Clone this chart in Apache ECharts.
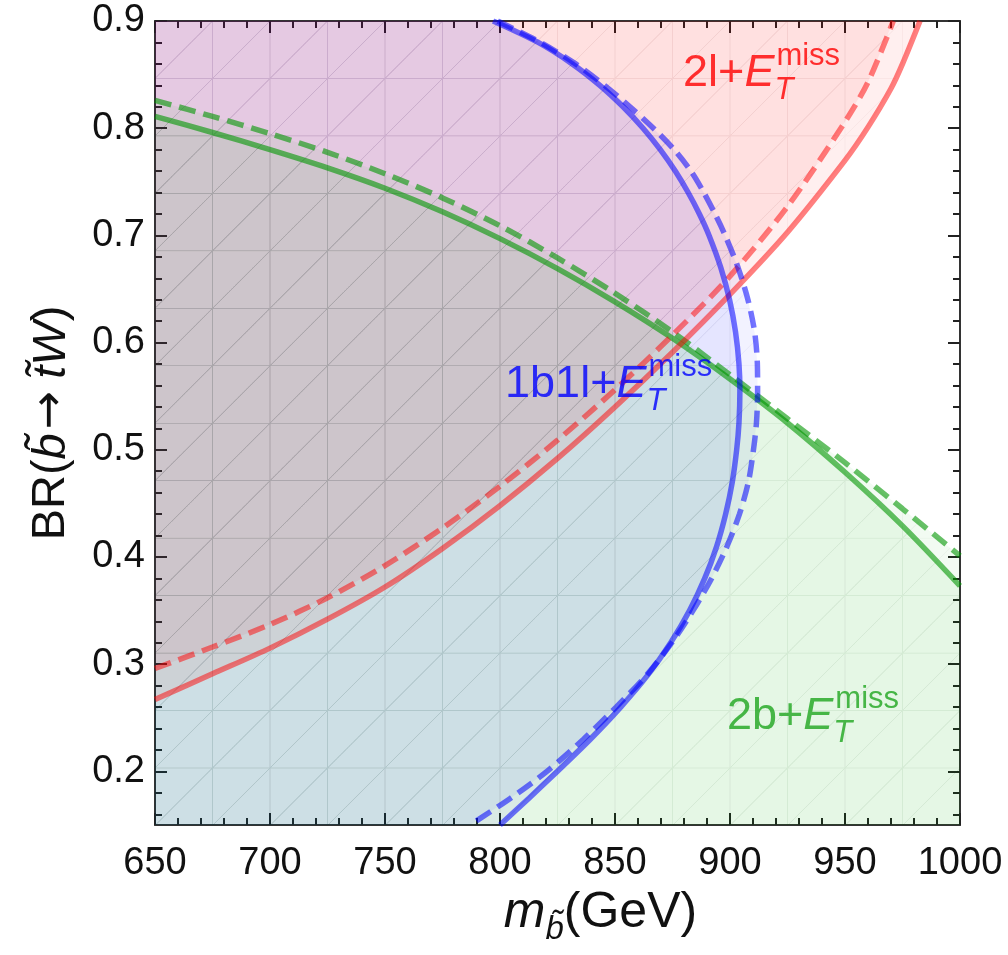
<!DOCTYPE html>
<html>
<head>
<meta charset="utf-8">
<script src="https://cdn.jsdelivr.net/npm/echarts@6/dist/echarts.min.js"></script>
<style>
  html, body { margin: 0; padding: 0; background: #ffffff; }
  #chart { width: 1008px; height: 955px; }
</style>
</head>
<body>
<div id="chart"></div>
<script>
// Axis ranges and tick values
const xMin = 650, xMax = 1000;
const yMin = 0.15, yMax = 0.9;
const yMajorTicks = [0.2, 0.3, 0.4, 0.5, 0.6, 0.7, 0.8, 0.9];
const yMinorTicks = [0.16, 0.18, 0.22, 0.24, 0.26, 0.28, 0.32, 0.34, 0.36, 0.38,
  0.42, 0.44, 0.46, 0.48, 0.52, 0.54, 0.56, 0.58, 0.62, 0.64, 0.66, 0.68,
  0.72, 0.74, 0.76, 0.78, 0.82, 0.84, 0.86, 0.88];

// Sampling mesh of the shaded regions (cell size in data units)
const meshX0 = 650, meshDX = 25;
const meshY0 = 0.9, meshDY = 0.0536;

// 2l + ETmiss exclusion boundary (region above the curve)
const redSolid = [[650, 0.267], [675, 0.291], [700, 0.315], [725, 0.342], [750, 0.372],
  [775, 0.408], [800, 0.448], [825, 0.492], [850, 0.540], [875, 0.591], [900, 0.645],
  [925, 0.703], [950, 0.770], [960, 0.801], [970, 0.837], [975, 0.860], [982.6, 0.9]];
const redDashed = [[650, 0.296], [675, 0.316], [700, 0.337], [725, 0.362], [750, 0.392],
  [775, 0.427], [800, 0.466], [825, 0.509], [850, 0.556], [875, 0.607], [900, 0.662],
  [925, 0.727], [950, 0.806], [960, 0.843], [971, 0.9]];

// 1b1l + ETmiss boundary (region to the left of the curve), listed top to bottom
const blueSolid = [[797.0, 0.9], [816.6, 0.88], [831.4, 0.86], [843.4, 0.84], [853.5, 0.82],
  [862.2, 0.80], [869.7, 0.78], [876.2, 0.76], [881.8, 0.74], [886.7, 0.72], [890.9, 0.70],
  [896.0, 0.67], [899.8, 0.64], [902.4, 0.61], [903.9, 0.58], [904.3, 0.555], [903.9, 0.525],
  [902.9, 0.50], [901.0, 0.47], [898.1, 0.44], [894.2, 0.41], [889.0, 0.38], [882.4, 0.35],
  [874.2, 0.32], [864.3, 0.29], [852.5, 0.26], [839.3, 0.23], [824.9, 0.20], [812.6, 0.175],
  [800.0, 0.15]];
const blueDashed = [[799.0, 0.9], [817.6, 0.88], [832.9, 0.86], [845.4, 0.84], [856.5, 0.82],
  [866.7, 0.80], [875.7, 0.78], [883.0, 0.76], [888.6, 0.74], [893.5, 0.72], [897.9, 0.70],
  [903.5, 0.67], [907.8, 0.64], [910.7, 0.61], [911.9, 0.58], [912.0, 0.555], [911.5, 0.525],
  [910.2, 0.50], [908.0, 0.47], [904.1, 0.44], [898.7, 0.41], [892.0, 0.38], [883.9, 0.35],
  [874.7, 0.32], [863.8, 0.29], [850.5, 0.26], [836.3, 0.23], [820.4, 0.20], [804.6, 0.175],
  [787.0, 0.15]];

// 2b + ETmiss boundary (region below the curve)
const greenSolid = [[650, 0.811], [675, 0.796], [700, 0.780], [725, 0.763], [750, 0.744],
  [775, 0.722], [800, 0.697], [825, 0.669], [850, 0.638], [875, 0.604], [900, 0.566],
  [925, 0.525], [950, 0.479], [975, 0.429], [1000, 0.373]];
const greenDashed = [[650, 0.826], [675, 0.811], [700, 0.795], [725, 0.7775], [750, 0.7575],
  [775, 0.735], [800, 0.709], [825, 0.679], [850, 0.646], [875, 0.610], [900, 0.570],
  [925, 0.529], [950, 0.488], [975, 0.445], [1000, 0.401]];

// Channel labels: [x, y] anchor of each label (left edge, vertical middle)
const labelPrefix = ['2l+', '1b1l+', '2b+'];
const labelAnchors = [[879.6, 0.851], [802.2, 0.561], [898.7, 0.251]];
const labelColors = ['#ff0000', '#0000ff', '#1ea51e'];

const FONT = "'Liberation Sans', Arial, sans-serif";

const chart = echarts.init(document.getElementById('chart'), null, { renderer: 'canvas' });

const axisLineStyle = { show: true, onZero: false, lineStyle: { color: '#333', width: 2 } };
const majorTick = { show: true, inside: true, length: 12, lineStyle: { color: '#222', width: 2 } };
const minorTickX = { show: true, splitNumber: 5, length: 7, lineStyle: { color: '#222', width: 2 } };

const baseOption = {
  backgroundColor: '#ffffff',
  animation: false,
  grid: { left: 155, right: 48, top: 21, bottom: 130, containLabel: false },
  xAxis: [
    {
      type: 'value', position: 'bottom', min: xMin, max: xMax, interval: 50,
      axisLine: axisLineStyle, axisTick: majorTick, minorTick: minorTickX,
      splitLine: { show: false },
      axisLabel: {
        fontSize: 38, color: '#111', fontFamily: FONT, margin: 20,
        formatter: function (v) { return String(v); }
      },
      name: '{i|m}{b|b\u0303}{n|(GeV)}',
      nameLocation: 'middle', nameGap: 46,
      nameTextStyle: {
        padding: [0, 0, 0, 86],
        rich: {
          i: { fontSize: 50, fontStyle: 'italic', color: '#111', fontFamily: FONT, lineHeight: 66, verticalAlign: 'middle' },
          b: { fontSize: 33, fontStyle: 'italic', color: '#111', fontFamily: FONT, lineHeight: 33, verticalAlign: 'bottom' },
          n: { fontSize: 50, color: '#111', fontFamily: FONT, lineHeight: 66, verticalAlign: 'middle' }
        }
      }
    },
    {
      type: 'value', position: 'top', min: xMin, max: xMax, interval: 50,
      axisLine: axisLineStyle, axisTick: majorTick, minorTick: minorTickX,
      splitLine: { show: false }, axisLabel: { show: false }
    }
  ],
  yAxis: [
    {
      type: 'value', position: 'left', min: yMin, max: yMax,
      axisLine: axisLineStyle,
      axisTick: Object.assign({}, majorTick, { customValues: yMajorTicks }),
      splitLine: { show: false },
      axisLabel: {
        customValues: yMajorTicks, fontSize: 38, color: '#111', fontFamily: FONT, margin: 10,
        formatter: function (v) { return v.toFixed(1); }
      },
      name: '{n|BR(}{i|b\u0303}{a|\u2192}{i|t\u0303W}{n|)}',
      nameLocation: 'middle', nameGap: 80,
      nameTextStyle: {
        rich: {
          n: { fontSize: 47, color: '#111', fontFamily: FONT },
          i: { fontSize: 47, fontStyle: 'italic', color: '#111', fontFamily: FONT },
          a: { fontSize: 46, color: '#111', fontFamily: "'DejaVu Sans', sans-serif", padding: [0, 12, 0, 4] }
        }
      }
    },
    {
      type: 'value', position: 'left', min: yMin, max: yMax,
      axisLine: { show: false },
      axisTick: { show: true, inside: true, length: 7, customValues: yMinorTicks, lineStyle: { color: '#222', width: 2 } },
      splitLine: { show: false }, axisLabel: { show: false }
    },
    {
      type: 'value', position: 'right', min: yMin, max: yMax,
      axisLine: axisLineStyle,
      axisTick: Object.assign({}, majorTick, { customValues: yMajorTicks }),
      splitLine: { show: false }, axisLabel: { show: false }
    },
    {
      type: 'value', position: 'right', min: yMin, max: yMax,
      axisLine: { show: false },
      axisTick: { show: true, inside: true, length: 7, customValues: yMinorTicks, lineStyle: { color: '#222', width: 2 } },
      splitLine: { show: false }, axisLabel: { show: false }
    }
  ],
  series: []
};

chart.setOption(baseOption);

// Pixel geometry of one mesh cell, taken from the axes
const p0 = chart.convertToPixel({ xAxisIndex: 0, yAxisIndex: 0 }, [meshX0, meshY0]);
const p1 = chart.convertToPixel({ xAxisIndex: 0, yAxisIndex: 0 }, [meshX0 + meshDX, meshY0 - meshDY]);
const cellW = p1[0] - p0[0];
const cellH = p1[1] - p0[1];

// Translucent fill with the faint triangular mesh of the sampled region
function meshFill(fill, line) {
  const T = 200;
  const c = document.createElement('canvas');
  c.width = T; c.height = T;
  const g = c.getContext('2d');
  g.fillStyle = fill;
  g.fillRect(0, 0, T, T);
  g.strokeStyle = line;
  g.lineWidth = 1.0 * T / cellW;
  g.beginPath();
  g.moveTo(0, -10); g.lineTo(0, T + 10);
  g.moveTo(T, -10); g.lineTo(T, T + 10);
  g.moveTo(-10, 0); g.lineTo(T + 10, 0);
  g.moveTo(-10, T); g.lineTo(T + 10, T);
  g.moveTo(-T / 2, T / 2); g.lineTo(T / 2, -T / 2);
  g.moveTo(-10, T + 10); g.lineTo(T + 10, -10);
  g.moveTo(T / 2, 3 * T / 2); g.lineTo(3 * T / 2, T / 2);
  g.stroke();
  return { image: c, repeat: 'repeat', x: p0[0], y: p0[1], scaleX: cellW / T, scaleY: cellH / T };
}

function regionSeries(curve, closing, fill) {
  return {
    type: 'custom',
    xAxisIndex: 0, yAxisIndex: 0,
    clip: true, silent: true, z: 1,
    data: [0],
    renderItem: function (params, api) {
      const pts = curve.concat(closing).map(function (p) { return api.coord(p); });
      return { type: 'polygon', shape: { points: pts }, style: { fill: fill } };
    }
  };
}

function curveSeries(curve, color, dashed) {
  return {
    type: 'line',
    xAxisIndex: 0, yAxisIndex: 0,
    data: curve,
    smooth: 0.3,
    symbol: 'none',
    silent: true,
    z: 3,
    clip: true,
    lineStyle: { color: color, width: 5.5, type: dashed ? [17, 8] : 'solid', cap: 'butt' }
  };
}

const redFill = meshFill('rgba(255,0,0,0.062)', 'rgba(120,0,0,0.04)');
const blueFill = meshFill('rgba(0,0,255,0.052)', 'rgba(0,0,120,0.04)');
const greenFill = meshFill('rgba(0,175,0,0.052)', 'rgba(0,90,0,0.04)');
const redLine = 'rgba(255,0,0,0.5)';
const blueLine = 'rgba(0,0,255,0.55)';
const greenLine = 'rgba(0,150,0,0.6)';

const topLeft = [xMin, yMax], bottomLeft = [xMin, yMin], bottomRight = [xMax, yMin];

const labelSeries = {
  type: 'scatter',
  xAxisIndex: 0, yAxisIndex: 0,
  symbolSize: 0,
  silent: true,
  z: 5,
  data: labelAnchors.map(function (p, i) {
    const c = labelColors[i];
    return {
      value: p,
      label: {
        show: true,
        position: 'inside',
        align: 'left',
        verticalAlign: 'middle',
        formatter: '{n|' + labelPrefix[i] + '}{e|E}{t|T}{s|miss}',
        rich: {
          n: { fontSize: 45, lineHeight: 65, color: c, fontFamily: FONT, verticalAlign: 'middle' },
          e: { fontSize: 45, lineHeight: 65, color: c, fontFamily: FONT, fontStyle: 'italic', verticalAlign: 'middle' },
          t: { fontSize: 31, lineHeight: 31, color: c, fontFamily: FONT, fontStyle: 'italic', verticalAlign: 'bottom', width: 2 },
          s: { fontSize: 31, lineHeight: 31, color: c, fontFamily: FONT, verticalAlign: 'top' }
        }
      }
    };
  })
};

chart.setOption({
  series: [
    regionSeries(redSolid, [topLeft], redFill),
    regionSeries(redDashed, [topLeft], redFill),
    regionSeries(blueSolid, [bottomLeft, topLeft], blueFill),
    regionSeries(blueDashed, [bottomLeft, topLeft], blueFill),
    regionSeries(greenSolid, [bottomRight, bottomLeft], greenFill),
    regionSeries(greenDashed, [bottomRight, bottomLeft], greenFill),
    curveSeries(greenSolid, greenLine, false),
    curveSeries(greenDashed, greenLine, true),
    curveSeries(redSolid, redLine, false),
    curveSeries(redDashed, redLine, true),
    curveSeries(blueSolid, blueLine, false),
    curveSeries(blueDashed, blueLine, true),
    labelSeries
  ]
});
</script>
</body>
</html>
